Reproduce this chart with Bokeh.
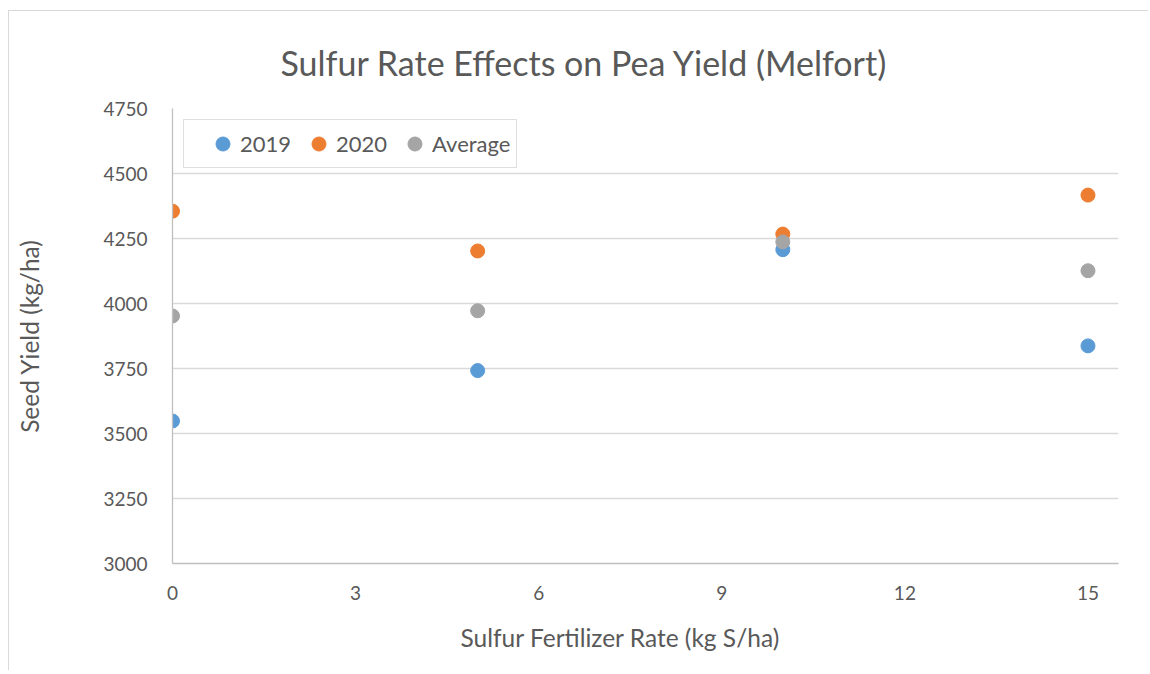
from bokeh.plotting import figure
from bokeh.models import ColumnDataSource, Legend, LegendItem, FixedTicker, Range1d, Title
from bokeh.embed import file_html
from bokeh.resources import INLINE

rates = [0, 5, 10, 15]
y2019 = [3548, 3742, 4207, 3837]
y2020 = [4355, 4202, 4267, 4417]
yavg = [3952, 3972, 4237, 4126]
series_names = ["2019", "2020", "Average"]
series_colors = ["#5B9BD5", "#ED7D31", "#A5A5A5"]
x_ticks = [0, 3, 6, 9, 12, 15]
y_ticks = [3000, 3250, 3500, 3750, 4000, 4250, 4500, 4750]

FONT = "Lato"
TXT = "#595959"

p = figure(width=1140, height=660, output_backend="svg", toolbar_location=None,
           x_range=Range1d(0, 15.5), y_range=Range1d(3000, 4750),
           min_border_left=163, min_border_right=31, min_border_top=97, min_border_bottom=108)
p.styles = {"border-left": "1px solid #d9d9d9", "border-top": "1px solid #d9d9d9",
            "margin-top": "10px", "margin-left": "8px"}

p.title.text = "Sulfur Rate Effects on Pea Yield (Melfort)"
p.title.align = "left"
p.title.offset = 108
p.title.text_font = FONT
p.title.text_font_size = "34px"
p.title.text_font_style = "normal"
p.title.text_color = TXT
p.title.standoff = 52

p.outline_line_color = None
p.xgrid.grid_line_color = None
p.ygrid.grid_line_color = "#d9d9d9"
p.ygrid.grid_line_width = 1.3

p.xaxis.ticker = FixedTicker(ticks=x_ticks)
p.yaxis.ticker = FixedTicker(ticks=y_ticks)
for ax in (p.xaxis[0], p.yaxis[0]):
    ax.axis_line_color = "#bfbfbf"
    ax.axis_line_width = 1.3
    ax.major_tick_line_color = None
    ax.minor_tick_line_color = None
    ax.major_label_text_font = FONT
    ax.major_label_text_font_size = "19px"
    ax.major_label_text_color = TXT
    ax.axis_label_text_font = FONT
    ax.axis_label_text_font_size = "24.5px"
    ax.axis_label_text_font_style = "normal"
    ax.axis_label_text_color = TXT

p.yaxis.axis_label = "Seed Yield (kg/ha)"
p.xaxis.major_label_standoff = 16
p.yaxis.major_label_standoff = 19
p.yaxis.axis_label_standoff = 56

xlab = Title(text="Sulfur Fertilizer Rate (kg S/ha)", align="left", offset=288,
             text_font=FONT, text_font_size="24.5px", text_font_style="normal",
             text_color=TXT, standoff=36)
p.add_layout(xlab, "below")

items = []
for name, ys, col in zip(series_names, [y2019, y2020, yavg], series_colors):
    src = ColumnDataSource(dict(x=rates, y=ys))
    r = p.scatter("x", "y", source=src, size=14, fill_color=col, line_color=col)
    items.append(LegendItem(label=name, renderers=[r]))

legend = Legend(items=items, orientation="horizontal", location=(11, 395))
legend.title = " "
legend.title_location = "left"
legend.title_standoff = 0
legend.title_text_font_size = "13px"
legend.title_text_alpha = 0
legend.label_text_font = FONT
legend.label_text_font_size = "22px"
legend.label_text_color = TXT
legend.border_line_color = "#bfbfbf"
legend.border_line_width = 1.5
legend.glyph_width = 35
legend.glyph_height = 35
legend.spacing = 10
legend.padding = 6
legend.margin = 0
legend.label_standoff = 0
legend.label_height = 22
legend.background_fill_alpha = 1
p.add_layout(legend, "center")

open("out.html", "w").write(file_html(p, INLINE))
